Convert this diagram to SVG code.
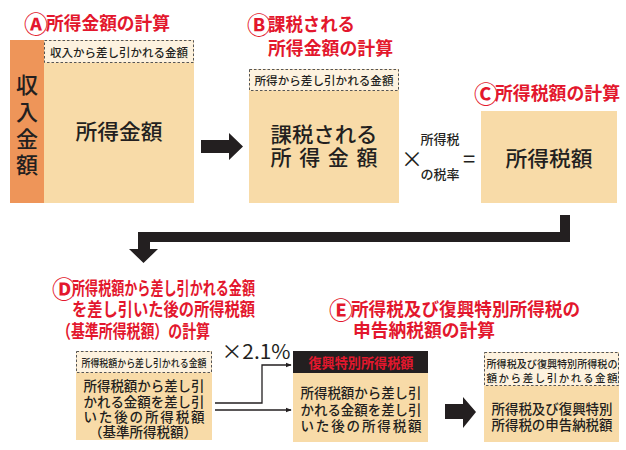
<svg xmlns="http://www.w3.org/2000/svg" width="626" height="450" viewBox="0 0 626 450">
<defs>
<style>
text{font-family:"Noto Sans CJK JP","Noto Sans",sans-serif;fill:#231f20;dominant-baseline:central}
.ttl{font-size:18px;font-weight:700;fill:#e3172d}
.cir{font-size:24px;font-weight:700;fill:#e3172d;text-anchor:middle}
.tan{fill:#f8dba8}
.dash{fill:#fdf2df;stroke:#555;stroke-width:1;stroke-dasharray:2.5 2}
.sm{font-size:11px;font-weight:500;text-anchor:middle}
.big{font-size:21px;font-weight:500;text-anchor:middle}
.mid{font-size:13.5px;font-weight:500;text-anchor:middle}
.ln{fill:none;stroke:#231f20;stroke-width:1.3}
</style>
<marker id="ah" viewBox="0 0 8 8" refX="7" refY="4" markerWidth="6" markerHeight="6" orient="auto" markerUnits="userSpaceOnUse"><path d="M0,1 L8,4 L0,7 Z" fill="#231f20"/></marker>
</defs>
<rect width="626" height="450" fill="#fff"/>

<g id="titleA"><text class="cir" x="36" y="22">Ⓐ</text><text class="ttl" x="46" y="22" textLength="124" lengthAdjust="spacingAndGlyphs">所得金額の計算</text></g>
<g id="titleB"><text class="cir" x="259" y="23">Ⓑ</text><text class="ttl" x="268" y="23" textLength="87" lengthAdjust="spacingAndGlyphs">課税される</text><text class="ttl" x="268" y="47" textLength="125" lengthAdjust="spacingAndGlyphs">所得金額の計算</text></g>
<g id="titleC"><text class="cir" x="486" y="92">Ⓒ</text><text class="ttl" x="495" y="92" textLength="125" lengthAdjust="spacingAndGlyphs">所得税額の計算</text></g>
<g id="titleD"><text class="cir" x="64" y="287">Ⓓ</text><text class="ttl" x="72" y="287" textLength="183" lengthAdjust="spacingAndGlyphs">所得税額から差し引かれる金額</text><text class="ttl" x="72" y="308" textLength="183" lengthAdjust="spacingAndGlyphs">を差し引いた後の所得税額</text><text class="ttl" x="57" y="330" textLength="153" lengthAdjust="spacingAndGlyphs">（基準所得税額）の計算</text></g>
<g id="titleE"><text class="cir" x="341" y="308">Ⓔ</text><text class="ttl" x="351" y="308" textLength="229" lengthAdjust="spacingAndGlyphs">所得税及び復興特別所得税の</text><text class="ttl" x="353" y="329" textLength="142" lengthAdjust="spacingAndGlyphs">申告納税額の計算</text></g>

<g id="nodeA">
<rect x="10" y="40" width="34" height="163" fill="#ee9559"/>
<rect class="tan" x="44" y="40" width="150" height="163"/>
<rect class="dash" x="44.5" y="40.5" width="149" height="22"/>
<text class="sm" x="119" y="52" textLength="138" lengthAdjust="spacingAndGlyphs">収入から差し引かれる金額</text>
<text class="big" x="27" y="83" style="font-size:22px">収</text><text class="big" x="27" y="110" style="font-size:22px">入</text><text class="big" x="27" y="137" style="font-size:22px">金</text><text class="big" x="27" y="163" style="font-size:22px">額</text>
<text class="big" x="119" y="130" textLength="87" lengthAdjust="spacingAndGlyphs">所得金額</text>
</g>

<g id="nodeB">
<rect class="tan" x="249" y="69" width="150" height="134"/>
<rect class="dash" x="249.5" y="69.5" width="149" height="21"/>
<text class="sm" x="324" y="80" textLength="139" lengthAdjust="spacingAndGlyphs">所得から差し引かれる金額</text>
<text class="big" x="324" y="133" textLength="107" lengthAdjust="spacingAndGlyphs">課税される</text>
<text class="big" x="324" y="156" textLength="107" lengthAdjust="spacing">所得金額</text>
</g>

<g id="op1">
<text x="412" y="157" style="font-size:22px;text-anchor:middle">×</text>
<text x="440" y="138" style="font-size:13px;text-anchor:middle;font-weight:500">所得税</text>
<text x="440" y="173" style="font-size:13px;text-anchor:middle;font-weight:500">の税率</text>
<text x="469" y="157" style="font-size:22px;text-anchor:middle">=</text>
</g>

<g id="nodeC">
<rect class="tan" x="481" y="111" width="136" height="92"/>
<text class="big" x="549" y="157" textLength="87" lengthAdjust="spacingAndGlyphs">所得税額</text>
</g>

<g id="nodeD">
<rect class="tan" x="76" y="351" width="136" height="89"/>
<rect class="dash" x="76.5" y="351.5" width="135" height="21"/>
<text class="sm" x="144" y="362" style="font-size:10.5px" textLength="125" lengthAdjust="spacingAndGlyphs">所得税額から差し引かれる金額</text>
<text class="mid" x="144" y="385" textLength="121" lengthAdjust="spacingAndGlyphs">所得税額から差し引</text>
<text class="mid" x="144" y="401" textLength="121" lengthAdjust="spacingAndGlyphs">かれる金額を差し引</text>
<text class="mid" x="144" y="416" textLength="121" lengthAdjust="spacing">いた後の所得税額</text>
<text class="mid" x="143" y="431">（基準所得税額）</text>
</g>

<g id="rate"><text x="256" y="350" style="font-size:20px;text-anchor:middle" textLength="69" lengthAdjust="spacingAndGlyphs">×2.1%</text></g>

<g id="nodeE">
<rect class="tan" x="293" y="351" width="135" height="91"/>
<rect x="293" y="351" width="135" height="22" fill="#231f20"/>
<text x="361" y="362" style="font-size:14px;font-weight:700;fill:#e3172d;text-anchor:middle" textLength="105" lengthAdjust="spacingAndGlyphs">復興特別所得税額</text>
<text class="mid" x="361" y="392" textLength="121" lengthAdjust="spacingAndGlyphs">所得税額から差し引</text>
<text class="mid" x="361" y="409" textLength="121" lengthAdjust="spacingAndGlyphs">かれる金額を差し引</text>
<text class="mid" x="361" y="425" textLength="121" lengthAdjust="spacing">いた後の所得税額</text>
</g>

<g id="nodeF">
<rect class="tan" x="484" y="352" width="135" height="90"/>
<rect class="dash" x="484.5" y="352.5" width="134" height="33"/>
<text class="sm" x="552" y="363" style="font-size:10.5px" textLength="131" lengthAdjust="spacingAndGlyphs">所得税及び復興特別所得税の</text>
<text class="sm" x="552" y="377" style="font-size:10.5px" textLength="131" lengthAdjust="spacing">額から差し引かれる金額</text>
<text class="mid" x="552" y="408" textLength="121" lengthAdjust="spacingAndGlyphs">所得税及び復興特別</text>
<text class="mid" x="552" y="424" textLength="121" lengthAdjust="spacingAndGlyphs">所得税の申告納税額</text>
</g>

<g id="connectors" fill="#231f20">
<path d="M201,140 H229 V133 L243,146.5 L229,160 V153 H201 Z"/>
<path d="M570,215 V242 H150 V249 H158 L143.5,263 L129,249 H138 V232 H560 V215 Z"/>
<path d="M445,404 H463 V397 L476,412 L463,428 V419 H445 Z"/>
<path class="ln" d="M215,403 H262 V365 H291" marker-end="url(#ah)"/>
<path class="ln" d="M215,410 H291" marker-end="url(#ah)"/>
</g>
</svg>
